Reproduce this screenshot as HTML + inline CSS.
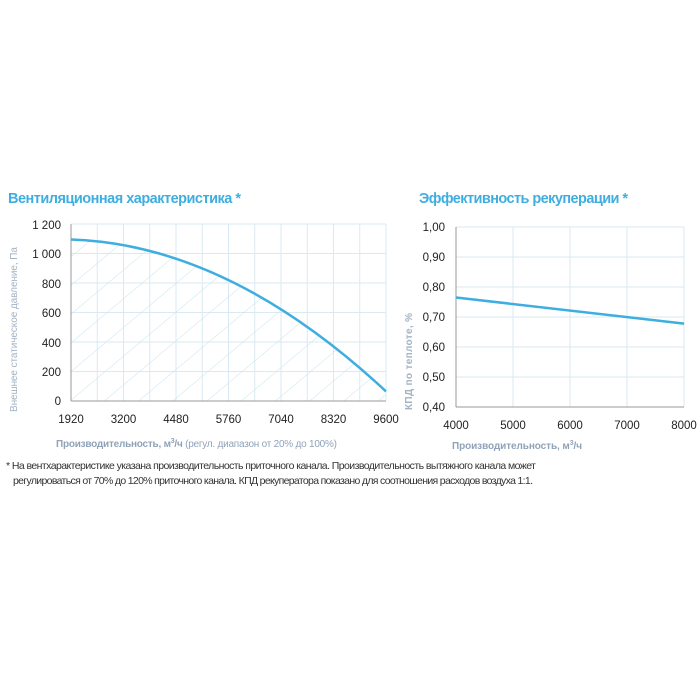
<!DOCTYPE html>
<html><head><meta charset="utf-8"><style>html,body{margin:0;padding:0;background:#fff}svg{display:block}</style></head>
<body>
<svg width="700" height="700" xmlns="http://www.w3.org/2000/svg" font-family="Liberation Sans, sans-serif">
<defs>
<clipPath id="area"><path d="M71,239.5 Q228.5,244.7 386,391.4 L386,401 L71,401 Z"/></clipPath>
<pattern id="hatch" width="22" height="22" patternUnits="userSpaceOnUse" patternTransform="rotate(-40)">
<line x1="0" y1="0" x2="22" y2="0" stroke="#c6e4f0" stroke-width="1.1"/></pattern>
</defs>
<text x="8" y="203" font-size="14.5" font-weight="bold" fill="#3eaee0" textLength="233">Вентиляционная характеристика *</text>
<text x="419" y="203" font-size="14.5" font-weight="bold" fill="#3eaee0" textLength="209">Эффективность рекуперации *</text>
<g stroke="#dbe9f2" stroke-width="1">
<line x1="97.25" y1="224" x2="97.25" y2="401"/><line x1="123.5" y1="224" x2="123.5" y2="401"/><line x1="149.75" y1="224" x2="149.75" y2="401"/><line x1="176" y1="224" x2="176" y2="401"/><line x1="202.25" y1="224" x2="202.25" y2="401"/><line x1="228.5" y1="224" x2="228.5" y2="401"/><line x1="254.75" y1="224" x2="254.75" y2="401"/><line x1="281" y1="224" x2="281" y2="401"/><line x1="307.25" y1="224" x2="307.25" y2="401"/><line x1="333.5" y1="224" x2="333.5" y2="401"/><line x1="359.75" y1="224" x2="359.75" y2="401"/><line x1="386" y1="224" x2="386" y2="401"/>
<line x1="71" y1="224" x2="386" y2="224"/><line x1="71" y1="253.5" x2="386" y2="253.5"/><line x1="71" y1="283" x2="386" y2="283"/><line x1="71" y1="312.5" x2="386" y2="312.5"/><line x1="71" y1="342" x2="386" y2="342"/><line x1="71" y1="371.5" x2="386" y2="371.5"/>
<line x1="513" y1="227" x2="513" y2="407"/><line x1="570" y1="227" x2="570" y2="407"/><line x1="627" y1="227" x2="627" y2="407"/><line x1="684" y1="227" x2="684" y2="407"/>
<line x1="456" y1="227" x2="684" y2="227"/><line x1="456" y1="257" x2="684" y2="257"/><line x1="456" y1="287" x2="684" y2="287"/><line x1="456" y1="317" x2="684" y2="317"/><line x1="456" y1="347" x2="684" y2="347"/><line x1="456" y1="377" x2="684" y2="377"/>
</g>
<rect x="71" y="220" width="315" height="181" fill="url(#hatch)" clip-path="url(#area)"/>
<g stroke="#999" stroke-width="1">
<line x1="71" y1="224" x2="71" y2="401"/><line x1="71" y1="401" x2="386" y2="401"/>
<line x1="456" y1="227" x2="456" y2="407"/><line x1="456" y1="407" x2="684" y2="407"/>
</g>
<path d="M71,239.5 Q228.5,244.7 386,391.4" fill="none" stroke="#3eaee0" stroke-width="2.5"/>
<line x1="456" y1="297.5" x2="684" y2="323.6" stroke="#3eaee0" stroke-width="2.5"/>
<g font-size="11.5" fill="#222" text-anchor="end">
<text x="61" y="229">1 200</text><text x="61" y="258">1 000</text><text x="61" y="288">800</text><text x="61" y="317">600</text><text x="61" y="347">400</text><text x="61" y="376">200</text><text x="61" y="405">0</text>
<text x="445" y="231">1,00</text><text x="445" y="261">0,90</text><text x="445" y="291">0,80</text><text x="445" y="321">0,70</text><text x="445" y="351">0,60</text><text x="445" y="381">0,50</text><text x="445" y="411">0,40</text>
</g>
<g font-size="11.5" fill="#222" text-anchor="middle">
<text x="71" y="423">1920</text><text x="123.5" y="423">3200</text><text x="176" y="423">4480</text><text x="228.5" y="423">5760</text><text x="281" y="423">7040</text><text x="333.5" y="423">8320</text><text x="386" y="423">9600</text>
<text x="456" y="429">4000</text><text x="513" y="429">5000</text><text x="570" y="429">6000</text><text x="627" y="429">7000</text><text x="684" y="429">8000</text>
</g>
<text x="56" y="447" font-size="10" fill="#8fa3b8" textLength="281"><tspan font-weight="bold">Производительность, м<tspan font-size="7" dy="-4">3</tspan><tspan dy="4">/ч</tspan></tspan> (регул. диапазон от 20% до 100%)</text>
<text x="452" y="449" font-size="10" fill="#8fa3b8" font-weight="bold" textLength="130">Производительность, м<tspan font-size="7" dy="-4">3</tspan><tspan dy="4">/ч</tspan></text>
<text transform="translate(17,412) rotate(-90)" font-size="10" fill="#a3b3c4" textLength="165">Внешнее статическое давление, Па</text>
<text transform="translate(412,410) rotate(-90)" font-size="10" fill="#a3b3c4" font-weight="bold" textLength="97">КПД по теплоте, %</text>
<text x="6" y="469" font-size="10.5" fill="#333" textLength="530">* На вентхарактеристике указана производительность приточного канала. Производительность вытяжного канала может</text>
<text x="13" y="484" font-size="10.5" fill="#333" textLength="520">регулироваться от 70% до 120% приточного канала. КПД рекуператора показано для соотношения расходов воздуха 1:1.</text>
</svg>
</body></html>
